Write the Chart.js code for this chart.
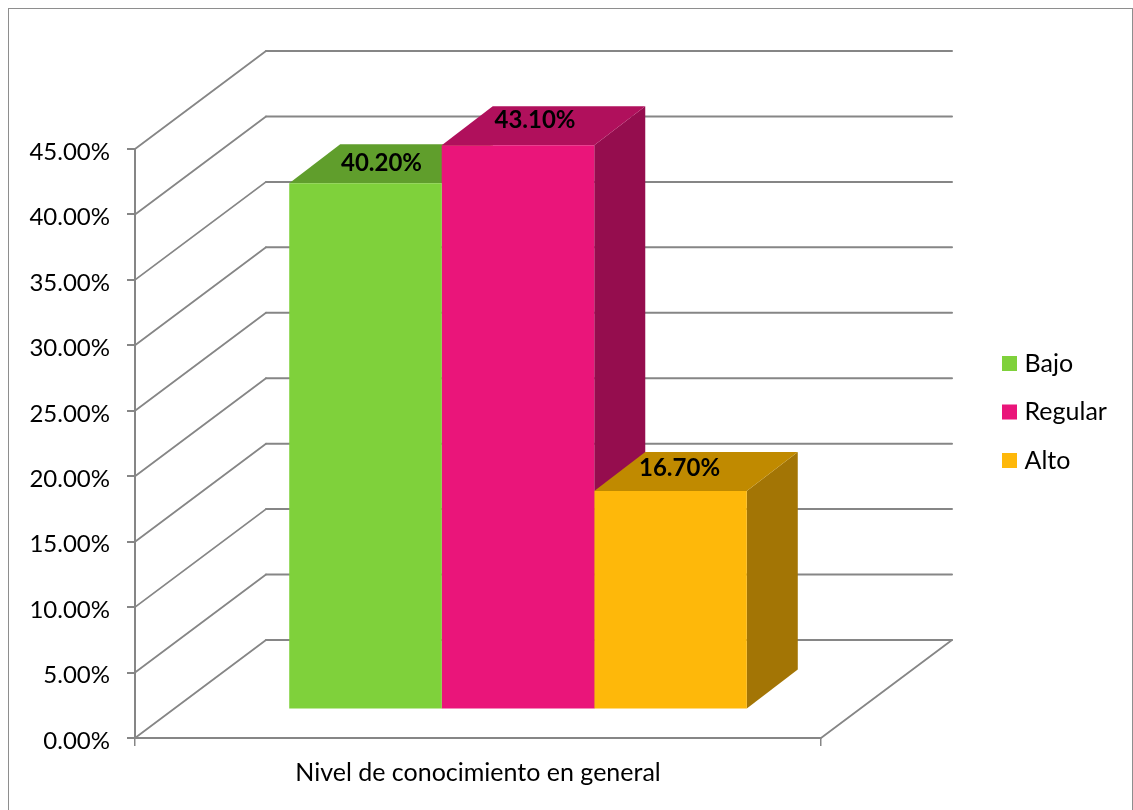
<!DOCTYPE html>
<html>
<head>
<meta charset="utf-8">
<title>Nivel de conocimiento en general</title>
<script src="https://cdn.jsdelivr.net/npm/chart.js@4"></script>
<style>
    html, body { margin: 0; padding: 0; background: #fff; overflow: hidden; }
    canvas { display: block; }
</style>
</head>
<body>
<canvas id="myChart" width="1133" height="810"></canvas>
<script>
const categories = ['Nivel de conocimiento en general'];
const seriesNames = ['Bajo', 'Regular', 'Alto'];
const bajoValues = [40.2];
const regularValues = [43.1];
const altoValues = [16.7];
const yTicks = [0, 5, 10, 15, 20, 25, 30, 35, 40, 45];

// face colours for each series: front, top, side
const frontColors = ['#7FD13B', '#EA157A', '#FEB80A'];
const topColors = ['#609E2C', '#B0105C', '#C08A00'];
const sideColors = ['#76CE2F', '#950D4E', '#A37505'];

const gridColor = '#868686';
const textFont = 'Lato, "Open Sans", sans-serif';

// the fake perspective
const wall = { x: 131, y: -98 };
const barShift = { x: 40, y: -28.5 };
const barDepth = { x: 51, y: -39 };
const labelNudge = [[16, -20], [17, -25], [9, -23]];

function face(ctx, color, pts) {
    ctx.fillStyle = color;
    ctx.beginPath();
    pts.forEach((p, i) => i ? ctx.lineTo(p[0], p[1]) : ctx.moveTo(p[0], p[1]));
    ctx.closePath();
    ctx.fill();
}

const fake3d = {
    id: 'fake3d',
    afterLayout(chart) {
        // legend sits out to the right of the plot, not inside it
        const lg = chart.legend;
        lg.left = 983.5;
        lg.right = lg.left + lg.width;
        lg.top = 112;
        lg.bottom = 712;
    },
    beforeDraw(chart) {
        const ctx = chart.ctx;
        ctx.save();
        ctx.strokeStyle = '#8E8E8E';
        ctx.lineWidth = 1;
        ctx.strokeRect(8.5, 8.5, 1124, 820);
        ctx.restore();
    },
    beforeDatasetsDraw(chart) {
        const ctx = chart.ctx;
        const { left, right, bottom } = chart.chartArea;
        const yScale = chart.scales.y;

        ctx.save();
        ctx.strokeStyle = gridColor;
        ctx.lineCap = 'round';
        yTicks.forEach(t => {
            const y = yScale.getPixelForValue(t);
            ctx.lineWidth = 1.8;
            ctx.beginPath();
            ctx.moveTo(left, y);
            ctx.lineTo(left + wall.x, y + wall.y);
            ctx.stroke();
            ctx.lineWidth = 2;
            ctx.beginPath();
            ctx.moveTo(left + wall.x, y + wall.y);
            ctx.lineTo(right + wall.x, y + wall.y);
            ctx.stroke();
        });
        // right edge of the floor
        ctx.lineWidth = 1.8;
        ctx.beginPath();
        ctx.moveTo(right, bottom);
        ctx.lineTo(right + wall.x, bottom + wall.y);
        ctx.stroke();

        // tops and sides go first, left to right, fronts are drawn over them
        ctx.translate(barShift.x, barShift.y);
        chart.data.datasets.forEach((ds, i) => {
            const bar = chart.getDatasetMeta(i).data[0];
            const l = bar.x - bar.width / 2;
            const r = bar.x + bar.width / 2;
            const t = bar.y;
            const b = bar.base;
            const dx = barDepth.x;
            const dy = barDepth.y;
            face(ctx, sideColors[i], [[r, t], [r + dx, t + dy], [r + dx, b + dy], [r, b]]);
            face(ctx, topColors[i], [[l, t], [l + dx, t + dy], [r + dx, t + dy], [r, t]]);
        });
        // left on until afterDatasetsDraw so the fronts shift too
    },
    afterDatasetsDraw(chart) {
        const ctx = chart.ctx;
        ctx.restore();

        ctx.save();
        ctx.fillStyle = '#000';
        ctx.font = 'bold 24px ' + textFont;
        ctx.textAlign = 'center';
        ctx.textBaseline = 'middle';
        chart.data.datasets.forEach((ds, i) => {
            const bar = chart.getDatasetMeta(i).data[0];
            ctx.fillText(ds.data[0].toFixed(2) + '%',
                bar.x + barShift.x + labelNudge[i][0],
                bar.y + barShift.y + labelNudge[i][1]);
        });
        ctx.restore();
    }
};

new Chart(document.getElementById('myChart').getContext('2d'), {
    type: 'bar',
    data: {
        labels: categories,
        datasets: [
            { label: seriesNames[0], data: bajoValues, backgroundColor: frontColors[0] },
            { label: seriesNames[1], data: regularValues, backgroundColor: frontColors[1] },
            { label: seriesNames[2], data: altoValues, backgroundColor: frontColors[2] }
        ]
    },
    options: {
        responsive: false,
        animation: false,
        categoryPercentage: 0.667,
        barPercentage: 1,
        clip: false,
        layout: { padding: { top: 149, right: 312, bottom: 0, left: 0 } },
        scales: {
            x: {
                afterFit(s) { s.height = 72; },
                grid: { drawOnChartArea: false, color: gridColor, lineWidth: 1.5, tickLength: 8 },
                border: { color: gridColor, width: 2 },
                ticks: { color: '#000', font: { family: textFont, size: 25 }, padding: 12 }
            },
            y: {
                min: 0,
                max: 45,
                afterFit(s) { s.width = 135; },
                afterBuildTicks(s) { s.ticks = yTicks.map(v => ({ value: v })); },
                grid: { drawOnChartArea: false, color: gridColor, lineWidth: 2, tickLength: 8 },
                border: { color: gridColor, width: 2 },
                ticks: {
                    color: '#000',
                    font: { family: textFont, size: 24 },
                    padding: 17,
                    labelOffset: 3,
                    callback: v => v.toFixed(2) + '%'
                }
            }
        },
        plugins: {
            tooltip: { enabled: false },
            legend: {
                position: 'chartArea',
                labels: {
                    usePointStyle: true,
                    pointStyle: 'rect',
                    boxWidth: 5,
                    boxHeight: 15,
                    padding: 23.5,
                    color: '#000',
                    font: { family: textFont, size: 25 }
                }
            }
        }
    },
    plugins: [fake3d]
});
</script>
</body>
</html>
